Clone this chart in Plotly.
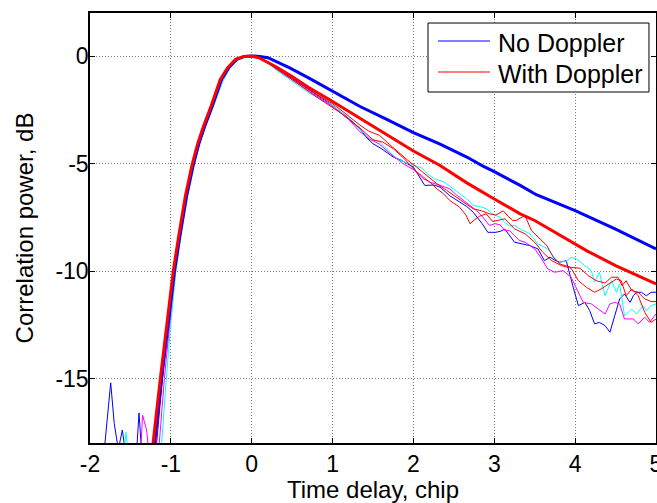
import plotly.graph_objects as go

# ---------------- data ----------------
# thick average curves
red_avg_x = [-1.30, -1.22, -1.13, -1.05, -0.97, -0.90, -0.82, -0.74, -0.67, -0.60, -0.50, -0.39, -0.30, -0.20, -0.10,
             0.0, 0.1, 0.2, 0.3, 0.5, 0.7, 0.97, 1.34, 1.67, 2.0, 2.33, 2.66, 3.0, 3.32, 3.5, 3.75, 4.0, 4.14, 4.5, 5.0]
red_avg_y = [-21, -18, -15.0, -12.5, -10.0, -8.3, -6.5, -5.1, -4.1, -3.3, -2.3, -1.1, -0.55, -0.15, -0.02,
             0.0, -0.1, -0.3, -0.5, -0.95, -1.45, -2.05, -2.9, -3.66, -4.42, -5.09, -5.9, -6.65, -7.34, -7.65, -8.2,
             -8.75, -9.05, -9.75, -10.6]

blue_avg_x = [-1.285, -1.205, -1.115, -1.035, -0.955, -0.885, -0.805, -0.725, -0.655, -0.585, -0.485, -0.375, -0.285,
              -0.185, -0.085, 0.02, 0.1, 0.2, 0.3, 0.47, 0.72, 0.97, 1.34, 1.67, 2.0, 2.33, 2.66, 2.86, 3.0, 3.32, 3.52,
              4.0, 4.5, 5.0]
blue_avg_y = [-21, -18, -15.0, -12.5, -10.0, -8.3, -6.5, -5.1, -4.1, -3.3, -2.3, -1.1, -0.55,
              -0.15, -0.02, 0.0, -0.02, -0.08, -0.25, -0.55, -1.05, -1.57, -2.35, -2.95, -3.56, -4.1, -4.70, -5.12, -5.38,
              -6.02, -6.45, -7.19, -8.05, -8.97]

# thin individual realisations
blue_x = [-1.85, -1.815, -1.744, -1.70, -1.65, -1.60, -1.567, -1.53, -1.45, -1.394, -1.36, -1.30, -1.22,
          -1.176, -1.10, -1.03, -0.96, -0.89, -0.81, -0.73, -0.66, -0.59, -0.49, -0.38, -0.28, -0.18, -0.08, 0.02,
          0.1, 0.2, 0.3, 0.4, 0.5, 0.6, 0.7, 0.8, 0.9, 1.0, 1.1, 1.2, 1.34, 1.42, 1.50, 1.6, 1.75, 1.85, 2.0, 2.14,
          2.25, 2.33, 2.45, 2.57, 2.66, 2.74, 2.85, 2.92, 3.02, 3.08, 3.13, 3.25, 3.34, 3.44, 3.54, 3.62, 3.69, 3.75,
          3.81, 3.89, 3.97, 4.04, 4.12, 4.18, 4.24, 4.30, 4.37, 4.43, 4.49, 4.55, 4.61, 4.68, 4.72, 4.76, 4.82, 4.88,
          4.94, 5.0]
blue_y = [-20, -18.0, -15.2, -17.1, -18.3, -17.4, -18.3, -20, -20, -16.6, -18.5, -20, -20.5,
          -18.0, -14.8, -12.2, -9.9, -8.1, -6.4, -5.0, -4.0, -3.2, -2.25, -1.1, -0.5, -0.15, -0.02, 0.0,
          -0.08, -0.3, -0.55, -0.82, -1.05, -1.3, -1.55, -1.8, -2.05, -2.3, -2.6, -2.9, -3.38, -3.8, -4.08, -4.3,
          -4.70, -4.85, -5.17, -6.02, -6.0, -6.1, -6.5, -6.8, -7.0, -7.27, -7.8, -8.2, -8.2, -8.15, -8.05, -8.66,
          -8.75, -8.82, -8.97, -9.52, -9.36, -9.5, -9.59, -9.52, -10.68, -11.61, -11.46, -11.84, -12.46, -12.39,
          -12.54, -12.85, -12.08, -11.30, -11.07, -11.46, -11.15, -10.99, -10.99, -11.15, -10.99, -10.99]

cyan_x = [-1.62, -1.58, -1.555, -1.53, -1.48, -1.2, -1.114, -1.06, -1.00, -0.94, -0.87, -0.79, -0.71, -0.64, -0.57,
          -0.47, -0.36, -0.26, -0.16, -0.06, 0.02, 0.14, 0.31, 0.51, 0.72, 0.9, 1.0, 1.1, 1.2, 1.34, 1.45, 1.58, 1.70,
          1.79, 1.9, 2.0, 2.1, 2.18, 2.26, 2.34, 2.41, 2.50, 2.57, 2.66, 2.74, 2.82, 2.9, 2.98, 3.07, 3.13, 3.19, 3.25,
          3.32, 3.44, 3.54, 3.66, 3.79, 3.89, 3.95, 4.02, 4.12, 4.20, 4.24, 4.30, 4.37, 4.45, 4.51, 4.55, 4.61, 4.70,
          4.76, 4.84, 4.88, 4.94, 5.0]
cyan_y = [-20, -18.5, -17.5, -18.5, -20, -21, -18, -15.2, -12.4, -10.1, -8.2, -6.5, -5.05, -4.0, -3.25,
          -2.3, -1.2, -0.5, -0.15, -0.02, 0.0, -0.17, -0.67, -1.2, -1.75, -2.1, -2.3, -2.6, -2.95, -3.46, -3.8, -4.0,
          -4.45, -4.78, -4.95, -5.09, -5.2, -5.5, -5.71, -5.8, -5.94, -6.2, -6.41, -6.65, -6.95, -7.0, -7.1, -7.35,
          -7.5, -7.75, -7.9, -7.88, -8.04, -8.27, -8.74, -8.97, -9.59, -9.55, -9.36, -9.44, -9.75, -9.98, -10.52,
          -10.06, -11.15, -10.45, -10.99, -10.6, -12.08, -11.77, -12.0, -11.61, -11.84, -11.61, -11.53]

magenta_x = [-1.42, -1.37, -1.35, -1.30, -1.27, -1.22, -1.143, -1.08, -1.01, -0.95, -0.88, -0.80, -0.72, -0.65, -0.58,
             -0.48, -0.37, -0.27, -0.17, -0.07, 0.02, 0.1, 0.2, 0.3, 0.4, 0.5, 0.6, 0.7, 0.8, 0.9, 1.0, 1.1, 1.2, 1.34,
             1.45, 1.58, 1.70, 1.87, 2.02, 2.1, 2.2, 2.32, 2.45, 2.53, 2.62, 2.70, 2.78, 2.86, 2.94, 3.01, 3.07, 3.13,
             3.19, 3.25, 3.31, 3.38, 3.5, 3.58, 3.66, 3.75, 3.85, 3.95, 4.02, 4.10, 4.20, 4.28, 4.37, 4.43, 4.49, 4.55,
             4.61, 4.72, 4.78, 4.86, 4.92, 5.0]
magenta_y = [-20, -18.2, -16.7, -17.4, -18.5, -20.5, -18, -15.0, -12.3, -10.0, -8.2, -6.5, -5.05, -4.05, -3.25,
             -2.3, -1.15, -0.5, -0.15, -0.02, 0.0, -0.1, -0.3, -0.6, -0.85, -1.1, -1.35, -1.6, -1.85, -2.1, -2.35,
             -2.65, -2.95, -3.53, -3.85, -4.1, -4.5, -5.0, -5.33, -5.55, -5.87, -6.0, -6.18, -6.45, -6.72, -6.95, -7.19,
             -7.5, -7.88, -7.8, -7.85, -8.12, -8.12, -8.35, -8.58, -8.66, -8.97, -9.4, -9.9, -10.06, -9.98, -10.29,
             -10.84, -11.46, -11.53, -11.77, -12.0, -11.53, -11.46, -11.53, -12.23, -12.23, -12.46, -12.15, -12.39,
             -12.0]

red1_x = [-1.28, -1.20, -1.12, -1.04, -0.96, -0.89, -0.81, -0.73, -0.66, -0.59, -0.49, -0.38, -0.28, -0.18, -0.08,
          0.02, 0.1, 0.2, 0.3, 0.4, 0.5, 0.6, 0.7, 0.8, 0.9, 1.0, 1.1, 1.2, 1.34, 1.45, 1.58, 1.7, 1.83, 1.93, 2.04,
          2.15, 2.29, 2.41, 2.53, 2.64, 2.74, 2.84, 2.94, 3.02, 3.11, 3.17, 3.23, 3.27, 3.38, 3.46, 3.54, 3.65, 3.73,
          3.81, 3.95, 4.06, 4.16, 4.26, 4.37, 4.45, 4.53, 4.58, 4.63, 4.70, 4.78, 4.86, 4.94, 5.0]
red1_y = [-21, -18, -15.0, -12.4, -10.0, -8.2, -6.45, -5.05, -4.05, -3.25, -2.3, -1.1, -0.5, -0.15, -0.02,
          0.0, -0.1, -0.28, -0.52, -0.78, -1.02, -1.28, -1.52, -1.78, -2.0, -2.22, -2.5, -2.8, -3.22, -3.5, -3.69,
          -4.1, -4.55, -4.85, -5.17, -5.5, -5.94, -6.25, -6.57, -6.85, -7.11, -7.2, -7.34, -7.4, -7.2, -7.45, -7.65,
          -7.65, -7.42, -8.12, -8.43, -8.82, -9.36, -9.67, -9.83, -9.87, -10.21, -10.45, -10.56, -10.29, -10.29,
          -10.68, -10.45, -10.91, -10.99, -11.3, -11.42, -11.42]

red2_x = [-1.27, -1.19, -1.11, -1.03, -0.955, -0.885, -0.805, -0.725, -0.655, -0.585, -0.485, -0.375, -0.275, -0.175,
          -0.075, 0.02, 0.1, 0.2, 0.3, 0.4, 0.5, 0.6, 0.7, 0.8, 0.9, 1.0, 1.1, 1.2, 1.34, 1.5, 1.62, 1.75, 1.88, 2.0,
          2.12, 2.2, 2.29, 2.37, 2.45, 2.57, 2.65, 2.70, 2.76, 2.82, 2.9, 2.98, 3.05, 3.13, 3.25, 3.38, 3.50, 3.60,
          3.71, 3.83, 3.95, 4.04, 4.14, 4.24, 4.32, 4.41, 4.51, 4.57, 4.63, 4.70, 4.78, 4.86, 4.94, 5.0]
red2_y = [-21, -18, -15.0, -12.3, -9.95, -8.15, -6.4, -5.0, -4.0, -3.2, -2.25, -1.1, -0.5, -0.15,
          -0.02, 0.0, -0.12, -0.32, -0.58, -0.85, -1.1, -1.38, -1.65, -1.9, -2.15, -2.38, -2.65, -2.95, -3.35, -3.9,
          -4.0, -4.31, -4.75, -5.25, -5.7, -5.85, -6.18, -6.4, -6.72, -7.03, -7.4, -7.8, -7.6, -7.45, -7.34, -7.7,
          -7.65, -7.57, -8.04, -8.27, -8.66, -9.13, -9.52, -9.75, -9.87, -10.45, -10.76, -10.99, -10.84, -10.6,
          -10.37, -10.45, -11.15, -10.84, -11.15, -11.92, -12.39, -12.23]

x_ticks = [-2, -1, 0, 1, 2, 3, 4, 5]
y_ticks = [0, -5, -10, -15]
legend_labels = ["No Doppler", "With Doppler"]

BLUE, RED, CYAN, MAGENTA = "#0000ff", "#ff0000", "#00ffff", "#ff00ff"
FONT = "Liberation Sans, Arial, sans-serif"

fig = go.Figure()
thin = [
    (blue_x, blue_y, BLUE),
    (cyan_x, cyan_y, CYAN),
    (magenta_x, magenta_y, MAGENTA),
    (red1_x, red1_y, RED),
    (red2_x, red2_y, RED),
]
for xs, ys, col in thin:
    fig.add_trace(go.Scatter(x=xs, y=ys, mode="lines", line=dict(color=col, width=1),
                             showlegend=False, hoverinfo="skip"))
fig.add_trace(go.Scatter(x=blue_avg_x, y=blue_avg_y, mode="lines", line=dict(color=BLUE, width=3),
                         showlegend=False, hoverinfo="skip"))
fig.add_trace(go.Scatter(x=red_avg_x, y=red_avg_y, mode="lines", line=dict(color=RED, width=3),
                         showlegend=False, hoverinfo="skip"))

axis_common = dict(
    showline=True, linecolor="black", linewidth=1.5, mirror="ticks",
    ticks="inside", ticklen=5, tickcolor="black", tickwidth=1,
    showgrid=True, gridcolor="#7a7a7a", griddash="1px,2px", gridwidth=1,
    zeroline=False, automargin=False, ticklabeloverflow="allow",
    tickfont=dict(family=FONT, size=23, color="black"),
)

fig.update_xaxes(range=[-2, 5], tickvals=x_ticks, ticktext=[str(v) for v in x_ticks],
                 title=dict(text="Time delay, chip", font=dict(family=FONT, size=24, color="black"), standoff=4),
                 **axis_common)
fig.update_yaxes(range=[-18, 2], tickvals=y_ticks, ticktext=[str(v) for v in y_ticks],
                 ticklabelstandoff=-5,
                 title=dict(text="Correlation power, dB", font=dict(family=FONT, size=24, color="black"), standoff=15),
                 **axis_common)

# ---- legend box drawn as in the reference (paper coordinates) ----
box = dict(x0=0.5972, x1=0.9876, y0=0.8163, y1=0.9767)
rows = [(legend_labels[0], BLUE, 0.9349, 0.9302), (legend_labels[1], RED, 0.8628, 0.8570)]
fig.add_shape(type="rect", xref="paper", yref="paper", layer="above",
              line=dict(color="black", width=1), fillcolor="white", **box)
for label, col, ly, ty in rows:
    fig.add_shape(type="line", xref="paper", yref="paper", layer="above",
                  x0=0.6148, x1=0.7067, y0=ly, y1=ly, line=dict(color=col, width=1.2))
    fig.add_annotation(xref="paper", yref="paper", x=0.7191, y=ty, xanchor="left", yanchor="middle",
                       text=label, showarrow=False, borderpad=0,
                       font=dict(family=FONT, size=25, color="black"))

fig.update_layout(
    width=657, height=503,
    margin=dict(l=90, r=1, t=13, b=60),
    paper_bgcolor="white", plot_bgcolor="white",
    font=dict(family=FONT, size=23, color="black"),
    showlegend=False,
)

fig.write_html("out.html", config={"displayModeBar": False},
               post_script="document.body.style.margin='0';document.body.style.overflow='hidden';")
